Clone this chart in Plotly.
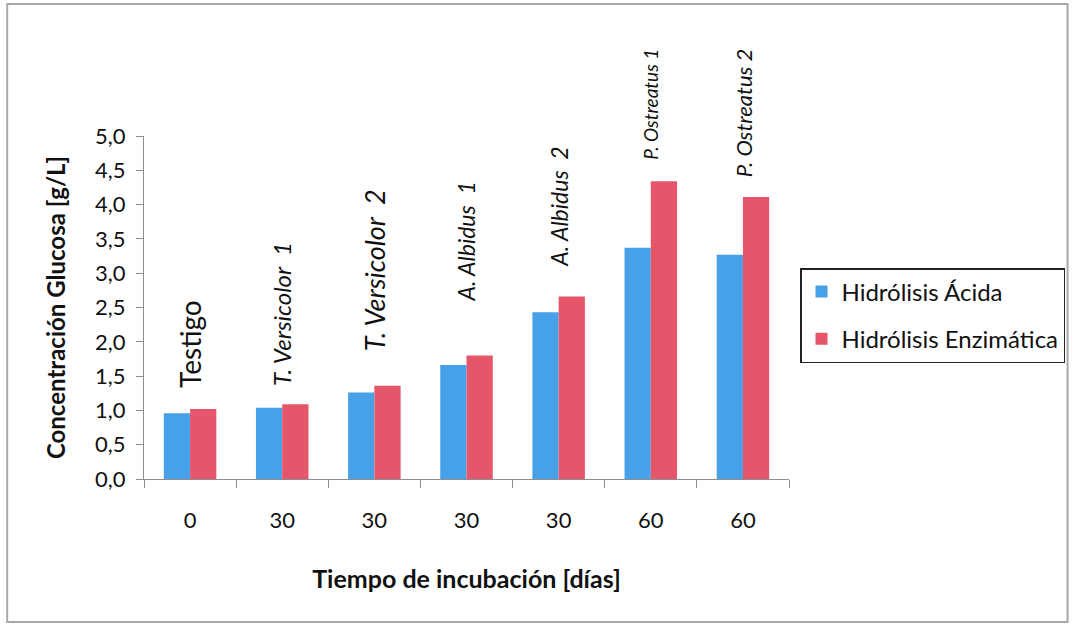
import plotly.graph_objects as go

# Glucose concentration by treatment (g/L)
tratamientos = ["Testigo", "T. Versicolor 1", "T. Versicolor 2", "A. Albidus 1",
                "A. Albidus 2", "P. Ostreatus 1", "P. Ostreatus 2"]
dias = ["0", "30", "30", "30", "30", "60", "60"]
hidrolisis_acida = [0.96, 1.04, 1.26, 1.66, 2.43, 3.37, 3.27]
hidrolisis_enzimatica = [1.02, 1.09, 1.36, 1.80, 2.66, 4.34, 4.11]
yticks = [0.0, 0.5, 1.0, 1.5, 2.0, 2.5, 3.0, 3.5, 4.0, 4.5, 5.0]

# Rotated treatment labels: rich-text, baseline height (data units) and size
etiquetas = ["Testigo", "<i>T. Versicolor  1</i>", "<i>T. Versicolor  2</i>",
             "<i>A. Albidus  1</i>", "<i>A. Albidus  2</i>",
             "<i>P. Ostreatus 1</i>", "<i>P. Ostreatus 2</i>"]
etiqueta_y = [1.30, 1.33, 1.84, 2.55, 3.06, 4.63, 4.37]
etiqueta_size = [28, 24, 27, 23, 23, 19, 22]

FONT = "Lato, 'Open Sans', sans-serif"
AXIS_GRAY = "#8e8e8e"

fig = go.Figure()
fig.add_trace(go.Bar(x=tratamientos, y=hidrolisis_acida, name="Hidrólisis Ácida",
                     marker=dict(color="#47a1e8", line=dict(width=0)),
                     legendgroup="a"))
fig.add_trace(go.Bar(x=tratamientos, y=hidrolisis_enzimatica, name="Hidrólisis Enzimática",
                     marker=dict(color="#e6566b", line=dict(width=0)),
                     legendgroup="b"))

for t, txt, yy, fs in zip(tratamientos, etiquetas, etiqueta_y, etiqueta_size):
    fig.add_annotation(x=t, y=yy, text=txt, textangle=-90, showarrow=False,
                       xanchor="center", yanchor="bottom",
                       font=dict(family=FONT, size=fs, color="#111"))

L, R, T, B = 144, 286, 136, 147
W, H = 1076, 626
pw, ph = W - L - R, H - T - B

# outer chart frame
fig.add_shape(type="rect", xref="paper", yref="paper",
              x0=(7 - L) / pw, x1=(1069 - L) / pw,
              y0=(H - B - 622) / ph, y1=(H - B - 4) / ph,
              line=dict(color="#a8a8a8", width=2), layer="below")

fig.update_layout(
    width=W, height=H,
    margin=dict(l=L, r=R, t=T, b=B),
    paper_bgcolor="white", plot_bgcolor="white",
    barmode="group", bargap=0.43, bargroupgap=0,
    font=dict(family=FONT, color="#111"),
    showlegend=True,
    legend=dict(x=(800 - L) / pw, y=(H - B - 268) / ph, xanchor="left", yanchor="top",
                bordercolor="#222", borderwidth=1.5, bgcolor="white",
                font=dict(size=24, family=FONT, color="#111"),
                tracegroupgap=13, itemwidth=30),
    xaxis=dict(
        type="category",
        tickmode="array", tickvals=tratamientos, ticktext=dias,
        tickson="boundaries", ticks="outside", ticklen=8, tickcolor=AXIS_GRAY,
        showline=True, linecolor=AXIS_GRAY, linewidth=1,
        showgrid=False, zeroline=False,
        tickfont=dict(size=22, family=FONT, color="#111"),
        ticklabelstandoff=22,
        title=dict(text="<b>Tiempo de incubación [días]</b>", standoff=38,
                   font=dict(size=25, family=FONT, color="#111")),
    ),
    yaxis=dict(
        range=[0, 5], tickmode="array", tickvals=yticks,
        ticktext=[f"{v:.1f}".replace(".", ",") for v in yticks],
        ticks="outside", ticklen=7, tickcolor=AXIS_GRAY,
        showline=True, linecolor=AXIS_GRAY, linewidth=1,
        showgrid=False, zeroline=False,
        tickfont=dict(size=22, family=FONT, color="#111"),
        ticklabelstandoff=6,
        title=dict(text="<b>Concentración Glucosa [g/L]</b>", standoff=22,
                   font=dict(size=24, family=FONT, color="#111")),
    ),
)

fig.write_html("out.html")
